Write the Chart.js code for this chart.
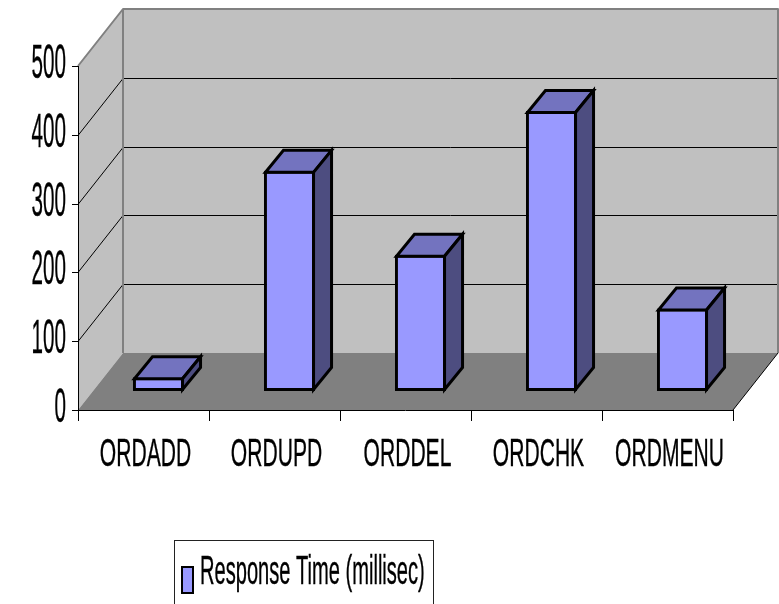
<!DOCTYPE html>
<html>
<head>
<meta charset="utf-8">
<script src="https://cdn.jsdelivr.net/npm/chart.js@4.4.1/dist/chart.umd.min.js"></script>
<style>
  html, body { margin: 0; padding: 0; background: #ffffff; }
  #wrap { width: 779px; height: 604px; }
</style>
</head>
<body>
<div id="wrap"><canvas id="chart" width="779" height="604"></canvas></div>
<script>
// данные графика
var Categories = ['ORDADD', 'ORDUPD', 'ORDDEL', 'ORDCHK', 'ORDMENU'];
var ResponseTime = [20, 320, 198, 407, 120];
var SeriesName = 'Response Time (millisec)';
var YTicks = [0, 100, 200, 300, 400, 500];

// глубина "3D" сцены
var _DepthX = 45, _DepthY = -57;      // смещение задней стенки
var _BarShiftX = 15, _BarShiftY = -19; // передняя грань столбца
var _BarDepthX = 18, _BarDepthY = -22; // глубина столбца

var _WallColor = '#C0C0C0';
var _FloorColor = '#808080';
var _BarFront = '#9999FF';
var _BarTop = '#7373BF';
var _BarSide = '#4D4D80';
var _Font = '"Liberation Sans", Arial, sans-serif';

// текст со сжатием по горизонтали (как в исходной картинке)
function drawNarrowText(ctx, text, x, y, size, sx, align) {
    ctx.save();
    ctx.font = size + 'px ' + _Font;
    ctx.fillStyle = '#000';
    ctx.strokeStyle = '#000';
    ctx.lineWidth = 0.4;
    ctx.textBaseline = 'alphabetic';
    ctx.textAlign = align;
    ctx.translate(x, y);
    ctx.scale(sx, 1);
    ctx.fillText(text, 0, 0);
    ctx.strokeText(text, 0, 0);
    ctx.restore();
}

function line(ctx, x1, y1, x2, y2, color, width) {
    ctx.beginPath();
    ctx.moveTo(x1, y1);
    ctx.lineTo(x2, y2);
    ctx.strokeStyle = color;
    ctx.lineWidth = width;
    ctx.stroke();
}

var scenePlugin = {
    id: 'scene3d',
    beforeDatasetsDraw: function (chart) {
        var ctx = chart.ctx;
        var a = chart.chartArea;
        var ys = chart.scales.y;
        var L = a.left, R = a.right, T = a.top, B = a.bottom;

        ctx.save();
        // задняя стенка
        ctx.fillStyle = _WallColor;
        ctx.fillRect(L + _DepthX, T + _DepthY, R - L, B - T);
        // левая стенка
        ctx.beginPath();
        ctx.moveTo(L, T); ctx.lineTo(L + _DepthX, T + _DepthY);
        ctx.lineTo(L + _DepthX, B + _DepthY); ctx.lineTo(L, B);
        ctx.closePath();
        ctx.fill();
        // пол
        ctx.fillStyle = _FloorColor;
        ctx.beginPath();
        ctx.moveTo(L, B); ctx.lineTo(R, B);
        ctx.lineTo(R + _DepthX, B + _DepthY); ctx.lineTo(L + _DepthX, B + _DepthY);
        ctx.closePath();
        ctx.fill();

        // линии сетки
        for (var i = 1; i < YTicks.length - 1; i++) {
            var y = Math.round(ys.getPixelForValue(YTicks[i])) + 0.5;
            line(ctx, L + _DepthX, y + _DepthY, R + _DepthX, y + _DepthY, '#000', 1);
            line(ctx, L, y, L + _DepthX, y + _DepthY, '#000', 1);
        }
        // контур стенок
        var yt = ys.getPixelForValue(YTicks[YTicks.length - 1]);
        ctx.lineJoin = 'round';
        ctx.beginPath();
        ctx.moveTo(L, yt);
        ctx.lineTo(L + _DepthX, yt + _DepthY);
        ctx.lineTo(R + _DepthX, yt + _DepthY);
        ctx.lineTo(R + _DepthX, B + _DepthY);
        ctx.strokeStyle = '#808080';
        ctx.lineWidth = 2;
        ctx.stroke();
        line(ctx, L + _DepthX, yt + _DepthY, L + _DepthX, B + _DepthY, '#808080', 2);
        // правый край пола
        line(ctx, R, B, R + _DepthX, B + _DepthY, '#000', 1);

        // ось Y и риски
        line(ctx, L + 0.5, yt, L + 0.5, B + 10, '#000', 1);
        for (var j = 0; j < YTicks.length; j++) {
            var ty = Math.round(ys.getPixelForValue(YTicks[j])) + 0.5;
            line(ctx, L - 6, ty, L, ty, '#000', 1);
        }
        // ось X и риски
        line(ctx, L, B + 0.5, R, B + 0.5, '#000', 1);
        var step = (R - L) / Categories.length;
        for (var k = 0; k <= Categories.length; k++) {
            var tx = Math.round(L + step * k) + 0.5;
            line(ctx, tx, B, tx, B + 11, '#000', 1);
        }
        ctx.restore();

        // сдвиг столбцов вглубь
        ctx.save();
        ctx.translate(_BarShiftX, _BarShiftY);
    },
    afterDatasetsDraw: function (chart) {
        var ctx = chart.ctx;
        var meta = chart.getDatasetMeta(0);
        ctx.lineJoin = 'miter';
        ctx.lineWidth = 3;
        ctx.strokeStyle = '#000';
        meta.data.forEach(function (bar) {
            var l = bar.x - bar.width / 2 + 1.5;
            var r = bar.x + bar.width / 2 - 1.5;
            var t = bar.y + 1.5;
            var b = bar.base - 1.5;
            // верхняя грань
            ctx.beginPath();
            ctx.moveTo(l, t); ctx.lineTo(r, t);
            ctx.lineTo(r + _BarDepthX, t + _BarDepthY);
            ctx.lineTo(l + _BarDepthX, t + _BarDepthY);
            ctx.closePath();
            ctx.fillStyle = _BarTop;
            ctx.fill();
            ctx.stroke();
            // боковая грань
            ctx.beginPath();
            ctx.moveTo(r, t); ctx.lineTo(r + _BarDepthX, t + _BarDepthY);
            ctx.lineTo(r + _BarDepthX, b + _BarDepthY);
            ctx.lineTo(r, b);
            ctx.closePath();
            ctx.fillStyle = _BarSide;
            ctx.fill();
            ctx.stroke();
        });
        ctx.restore();
    },
    afterDraw: function (chart) {
        var ctx = chart.ctx;
        var a = chart.chartArea;
        var ys = chart.scales.y;
        var xs = chart.scales.x;

        // подписи оси Y
        YTicks.forEach(function (v) {
            drawNarrowText(ctx, String(v), a.left - 12, ys.getPixelForValue(v) + 12, 48, 0.43, 'right');
        });
        // подписи категорий
        Categories.forEach(function (c, i) {
            drawNarrowText(ctx, c, xs.getPixelForValue(i) + 2, a.bottom + 56, 39, 0.54, 'center');
        });

        // легенда
        ctx.save();
        ctx.strokeStyle = '#222';
        ctx.lineWidth = 1;
        ctx.strokeRect(174.5, 540.5, 259, 80);
        ctx.fillStyle = _BarFront;
        ctx.fillRect(182, 567, 11, 26);
        ctx.lineWidth = 2;
        ctx.strokeStyle = '#000';
        ctx.strokeRect(182, 567, 11, 26);
        ctx.restore();
        drawNarrowText(ctx, SeriesName, 200, 584, 41, 0.49, 'left');
    }
};

var ctx = document.getElementById('chart');
var BarChart = new Chart(ctx, {
    type: 'bar',
    data: {
        labels: Categories,
        datasets: [{
            label: SeriesName,
            data: ResponseTime,
            backgroundColor: _BarFront,
            borderColor: '#000000',
            borderWidth: 3,
            borderSkipped: false
        }]
    },
    options: {
        responsive: false,
        animation: false,
        events: [],
        layout: { padding: { left: 78, right: 46, top: 66, bottom: 194 } },
        categoryPercentage: 1,
        barPercentage: 0.39,
        plugins: {
            legend: { display: false },
            tooltip: { enabled: false }
        },
        scales: {
            x: { display: false },
            y: { display: false, min: 0, max: 500, ticks: { stepSize: 100 } }
        }
    },
    plugins: [scenePlugin]
});
</script>
</body>
</html>
